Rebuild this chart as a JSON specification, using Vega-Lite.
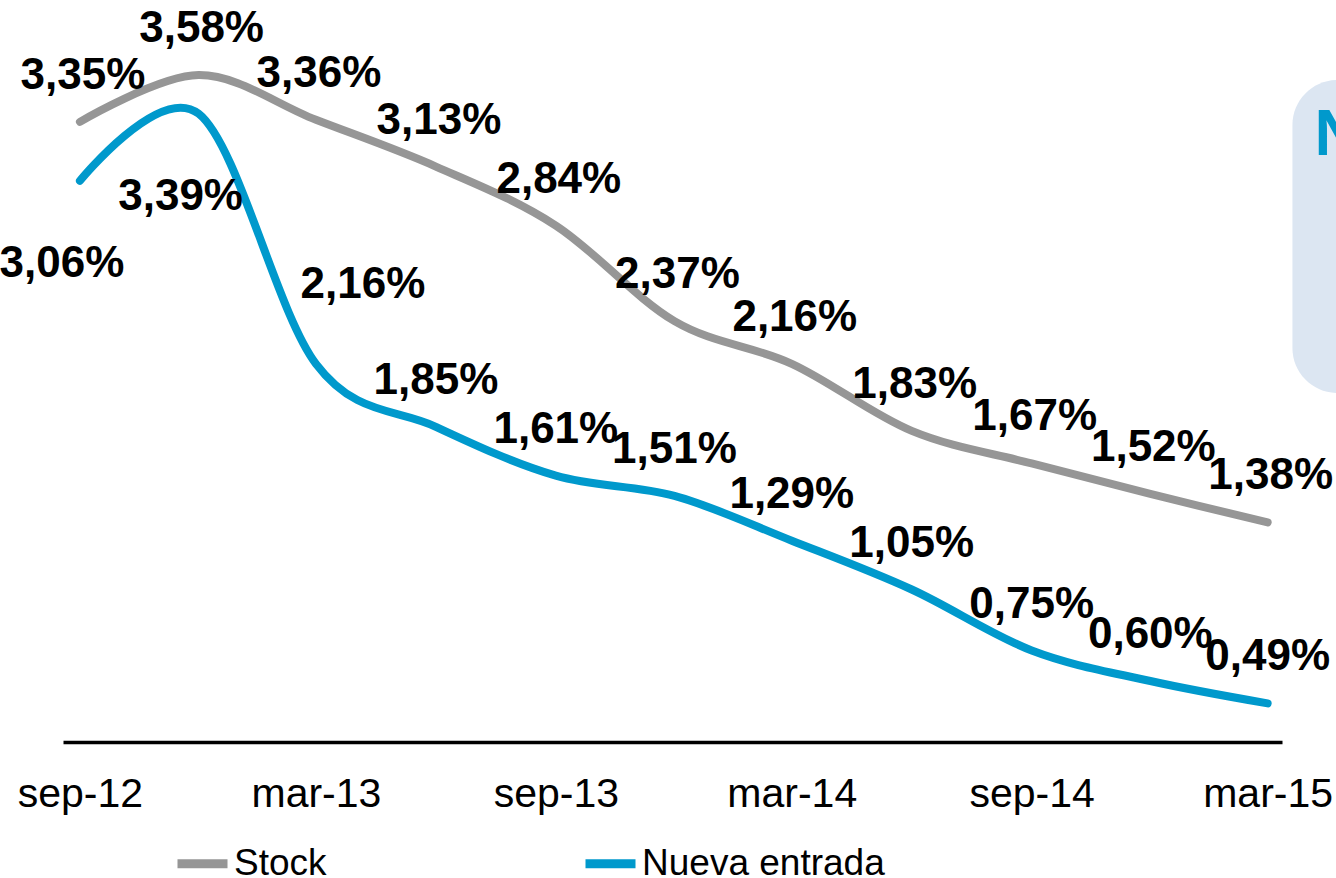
{
  "$schema": "https://vega.github.io/schema/vega-lite/v6.json",
  "width": 1219,
  "height": 732,
  "autosize": {"type": "none"},
  "padding": {"left": 63, "top": 10, "right": 54, "bottom": 136},
  "background": "white",
  "config": {
    "view": {"stroke": null},
    "axis": {"grid": false, "title": null},
    "text": {"font": "Liberation Sans"}
  },
  "datasets": {
    "series": [
      {"date": "2012-09-01", "series": "Stock", "value": 3.35},
      {"date": "2012-12-01", "series": "Stock", "value": 3.58},
      {"date": "2013-03-01", "series": "Stock", "value": 3.36},
      {"date": "2013-06-01", "series": "Stock", "value": 3.13},
      {"date": "2013-09-01", "series": "Stock", "value": 2.84},
      {"date": "2013-12-01", "series": "Stock", "value": 2.37},
      {"date": "2014-03-01", "series": "Stock", "value": 2.16},
      {"date": "2014-06-01", "series": "Stock", "value": 1.83},
      {"date": "2014-09-01", "series": "Stock", "value": 1.67},
      {"date": "2014-12-01", "series": "Stock", "value": 1.52},
      {"date": "2015-03-01", "series": "Stock", "value": 1.38},
      {"date": "2012-09-01", "series": "Nueva entrada", "value": 3.06},
      {"date": "2012-12-01", "series": "Nueva entrada", "value": 3.39},
      {"date": "2013-03-01", "series": "Nueva entrada", "value": 2.16},
      {"date": "2013-06-01", "series": "Nueva entrada", "value": 1.85},
      {"date": "2013-09-01", "series": "Nueva entrada", "value": 1.61},
      {"date": "2013-12-01", "series": "Nueva entrada", "value": 1.51},
      {"date": "2014-03-01", "series": "Nueva entrada", "value": 1.29},
      {"date": "2014-06-01", "series": "Nueva entrada", "value": 1.05},
      {"date": "2014-09-01", "series": "Nueva entrada", "value": 0.75},
      {"date": "2014-12-01", "series": "Nueva entrada", "value": 0.60},
      {"date": "2015-03-01", "series": "Nueva entrada", "value": 0.49}
    ],
    "callout": [
      {"x": "2015-03-20", "x2": "2015-07-30", "y": 3.556, "y2": 2.016}
    ],
    "note": [
      {"x": "2015-04-06", "y": 3.187, "text": "N"}
    ]
  },
  "layer": [
    {
      "data": {"name": "callout"},
      "mark": {"type": "rect", "color": "#dce6f2", "cornerRadius": 45},
      "encoding": {
        "x": {"field": "x", "type": "temporal", "scale": {"type": "utc", "domain": [{"year": 2012, "month": 8, "date": 19, "utc": true}, {"year": 2015, "month": 3, "date": 12, "utc": true}]}},
        "x2": {"field": "x2"},
        "y": {"field": "y", "type": "quantitative", "scale": {"domain": [0.3, 3.9], "nice": false, "zero": false}, "axis": null},
        "y2": {"field": "y2"}
      }
    },
    {
      "data": {"name": "note"},
      "mark": {"type": "text", "align": "left", "baseline": "alphabetic", "fontSize": 64, "fontWeight": "bold", "color": "#0099cc"},
      "encoding": {
        "x": {"field": "x", "type": "temporal"},
        "y": {"field": "y", "type": "quantitative", "axis": null},
        "text": {"field": "text"}
      }
    },
    {
      "data": {"name": "series"},
      "mark": {"type": "line", "interpolate": "cardinal", "strokeWidth": 8, "strokeCap": "round", "strokeJoin": "round"},
      "encoding": {
        "x": {
          "field": "date", "type": "temporal",
          "axis": {
            "values": [
              {"year": 2012, "month": 9, "date": 1, "utc": true},
              {"year": 2013, "month": 3, "date": 1, "utc": true},
              {"year": 2013, "month": 9, "date": 1, "utc": true},
              {"year": 2014, "month": 3, "date": 1, "utc": true},
              {"year": 2014, "month": 9, "date": 1, "utc": true},
              {"year": 2015, "month": 3, "date": 1, "utc": true}
            ],
            "labelExpr": "lower(utcFormat(datum.value, '%b-%y'))",
            "title": null,
            "domain": true,
            "domainColor": "#000000",
            "domainWidth": 3.5,
            "ticks": false,
            "tickSize": 0,
            "labelFontSize": 41,
            "labelFont": "Liberation Sans",
            "labelColor": "#000000",
            "labelPadding": 32,
            "labelFlush": false,
            "labelOverlap": false,
            "labelBaseline": "top"
          }
        },
        "y": {"field": "value", "type": "quantitative", "axis": null},
        "color": {
          "field": "series", "type": "nominal",
          "scale": {"domain": ["Stock", "Nueva entrada"], "range": ["#969696", "#0099cc"]},
          "legend": {
            "orient": "none",
            "legendX": 110,
            "legendY": 824,
            "direction": "horizontal",
            "title": null,
            "padding": 0,
            "symbolType": "stroke",
            "symbolSize": 2500,
            "symbolStrokeWidth": 9,
            "labelFontSize": 37,
            "labelFont": "Liberation Sans",
            "labelColor": "#000000",
            "labelOffset": 2,
            "labelLimit": 500,
            "columnPadding": 240,
            "encode": {
              "symbols": {"update": {"stroke": {"signal": "datum.value === 'Stock' ? '#c0c0c0' : '#0099cc'"}}}
            }
          }
        }
      }
    },
    {
      "data": {"name": "series"},
      "transform": [
        {"filter": "datum.series === 'Stock'"},
        {"calculate": "replace(format(datum.value, '.2f'), '.', ',') + '%'", "as": "label"}
      ],
      "mark": {"type": "text", "fontSize": 44, "fontWeight": "bold", "color": "#000000", "align": "center", "baseline": "middle", "dx": 3, "dy": -46},
      "encoding": {
        "x": {"field": "date", "type": "temporal"},
        "y": {"field": "value", "type": "quantitative", "axis": null},
        "text": {"field": "label"}
      }
    },
    {
      "data": {"name": "series"},
      "transform": [
        {"filter": "datum.series === 'Nueva entrada' && datum.value < 2"},
        {"calculate": "replace(format(datum.value, '.2f'), '.', ',') + '%'", "as": "label"}
      ],
      "mark": {"type": "text", "fontSize": 44, "fontWeight": "bold", "color": "#000000", "align": "center", "baseline": "middle", "dx": 0, "dy": -46},
      "encoding": {
        "x": {"field": "date", "type": "temporal"},
        "y": {"field": "value", "type": "quantitative", "axis": null},
        "text": {"field": "label"}
      }
    },
    {
      "data": {"name": "series"},
      "transform": [
        {"filter": "datum.series === 'Nueva entrada' && datum.value > 3"},
        {"calculate": "replace(format(datum.value, '.2f'), '.', ',') + '%'", "as": "label"}
      ],
      "mark": {"type": "text", "fontSize": 44, "fontWeight": "bold", "color": "#000000", "align": "center", "baseline": "middle", "dx": -18, "dy": 83},
      "encoding": {
        "x": {"field": "date", "type": "temporal"},
        "y": {"field": "value", "type": "quantitative", "axis": null},
        "text": {"field": "label"}
      }
    },
    {
      "data": {"name": "series"},
      "transform": [
        {"filter": "datum.series === 'Nueva entrada' && datum.value >= 2 && datum.value <= 3"},
        {"calculate": "replace(format(datum.value, '.2f'), '.', ',') + '%'", "as": "label"}
      ],
      "mark": {"type": "text", "fontSize": 44, "fontWeight": "bold", "color": "#000000", "align": "center", "baseline": "middle", "dx": 47, "dy": -79},
      "encoding": {
        "x": {"field": "date", "type": "temporal"},
        "y": {"field": "value", "type": "quantitative", "axis": null},
        "text": {"field": "label"}
      }
    }
  ]
}
